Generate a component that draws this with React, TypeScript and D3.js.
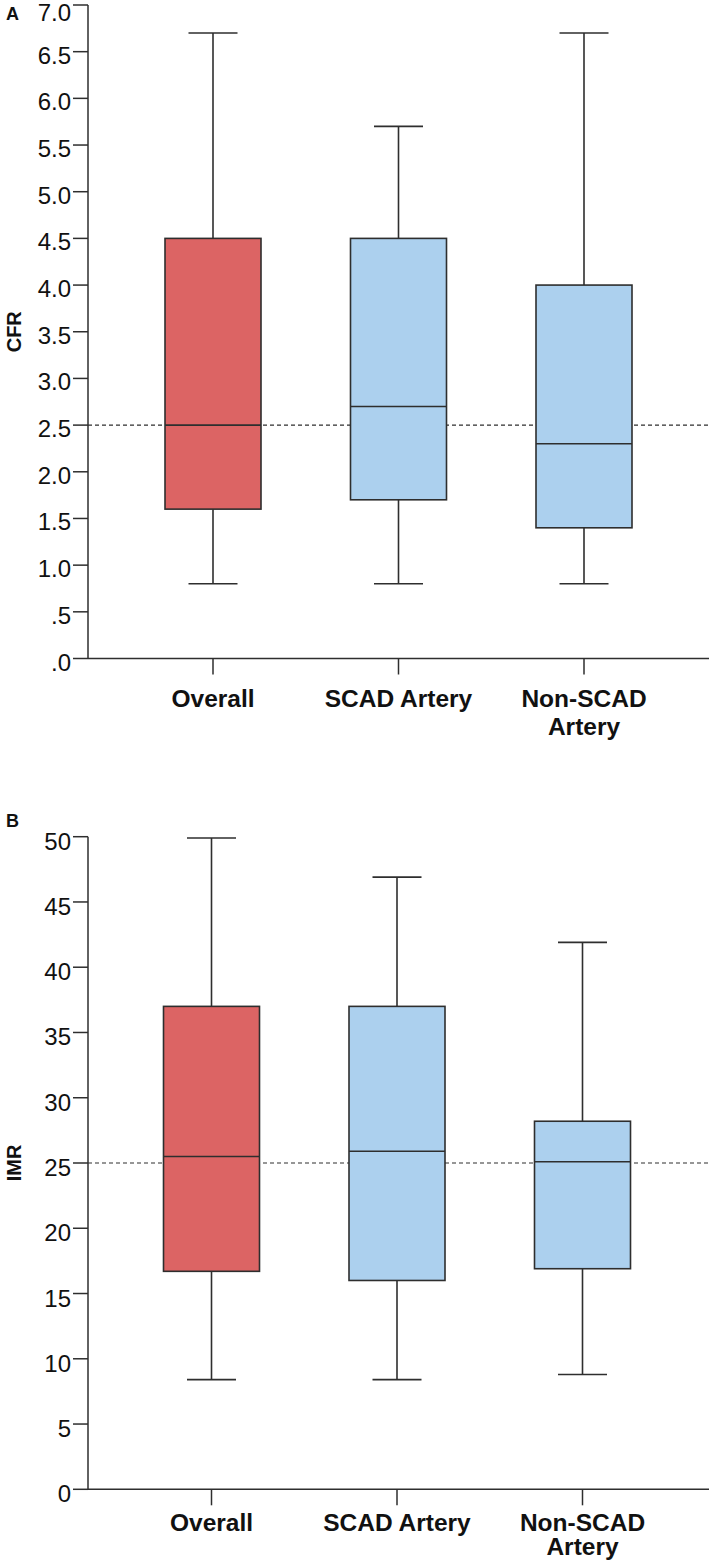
import React from "react";
import * as d3 from "d3";

const categories = ["Overall", "SCAD Artery", "Non-SCAD Artery"];
const fills = ["#dc6464", "#acd0ee", "#acd0ee"];

// CFR (panel A): whisker low, Q1, median, Q3, whisker high
const cfrLow = [0.8, 0.8, 0.8];
const cfrQ1 = [1.6, 1.7, 1.4];
const cfrMedian = [2.5, 2.7, 2.3];
const cfrQ3 = [4.5, 4.5, 4.0];
const cfrHigh = [6.7, 5.7, 6.7];
const cfrTicks = [0, 0.5, 1, 1.5, 2, 2.5, 3, 3.5, 4, 4.5, 5, 5.5, 6, 6.5, 7];
const cfrRef = 2.5;

// IMR (panel B)
const imrLow = [8.4, 8.4, 8.8];
const imrQ1 = [16.7, 16.0, 16.9];
const imrMedian = [25.5, 25.9, 25.1];
const imrQ3 = [37.0, 37.0, 28.2];
const imrHigh = [49.9, 46.9, 41.9];
const imrTicks = [0, 5, 10, 15, 20, 25, 30, 35, 40, 45, 50];
const imrRef = 25;

const FONT = "Arial, 'Liberation Sans', Helvetica, sans-serif";
const STROKE = "#2e2e2e";

type PanelProps = {
  letter: string;
  title: string;
  top: number;
  bottom: number;
  letterY: number;
  domain: [number, number];
  ticks: number[];
  fmt: (v: number) => string;
  low: number[];
  q1: number[];
  med: number[];
  q3: number[];
  high: number[];
  refVal: number;
  xShift: number;
  labelY: number;
  lineGap: number;
  tickDy: number;
};

function Panel(p: PanelProps) {
  const axisX = 88;
  const y = d3.scaleLinear().domain(p.domain).range([p.bottom, p.top]);
  const x = d3
    .scalePoint<string>()
    .domain(categories)
    .range([213 + p.xShift, 584 + p.xShift]);
  const boxHalf = 48;
  const capHalf = 24.5;
  return (
    <g>
      <text x={6} y={p.letterY} fontFamily={FONT} fontWeight="bold" fontSize={18} fill="#111">
        {p.letter}
      </text>
      <text
        transform={`translate(21,${(p.top + p.bottom) / 2}) rotate(-90)`}
        textAnchor="middle"
        fontFamily={FONT}
        fontWeight="bold"
        fontSize={20}
        fill="#111"
      >
        {p.title}
      </text>
      <line
        x1={axisX}
        x2={709}
        y1={y(p.refVal)}
        y2={y(p.refVal)}
        stroke={STROKE}
        strokeWidth={1.2}
        strokeDasharray="4,3"
      />
      {categories.map((c, i) => {
        const cx = x(c)!;
        return (
          <g key={c}>
            <line x1={cx} x2={cx} y1={y(p.high[i])} y2={y(p.q3[i])} stroke={STROKE} strokeWidth={1.6} />
            <line x1={cx} x2={cx} y1={y(p.q1[i])} y2={y(p.low[i])} stroke={STROKE} strokeWidth={1.6} />
            <line x1={cx - capHalf} x2={cx + capHalf} y1={y(p.high[i])} y2={y(p.high[i])} stroke={STROKE} strokeWidth={1.6} />
            <line x1={cx - capHalf} x2={cx + capHalf} y1={y(p.low[i])} y2={y(p.low[i])} stroke={STROKE} strokeWidth={1.6} />
            <rect
              x={cx - boxHalf}
              y={y(p.q3[i])}
              width={boxHalf * 2}
              height={y(p.q1[i]) - y(p.q3[i])}
              fill={fills[i]}
              stroke={STROKE}
              strokeWidth={1.6}
            />
            <line x1={cx - boxHalf} x2={cx + boxHalf} y1={y(p.med[i])} y2={y(p.med[i])} stroke={STROKE} strokeWidth={1.6} />
          </g>
        );
      })}
      <line x1={axisX} x2={axisX} y1={p.top} y2={p.bottom} stroke={STROKE} strokeWidth={1.5} />
      {p.ticks.map((t) => (
        <g key={t}>
          <line x1={axisX - 15} x2={axisX} y1={y(t)} y2={y(t)} stroke={STROKE} strokeWidth={1.5} />
          <text
            x={71}
            y={Math.max(y(t) + p.tickDy, 21)}
            textAnchor="end"
            fontFamily={FONT}
            fontSize={24}
            fill="#111"
          >
            {p.fmt(t)}
          </text>
        </g>
      ))}
      <line x1={axisX} x2={709} y1={p.bottom} y2={p.bottom} stroke={STROKE} strokeWidth={1.5} />
      {categories.map((c) => {
        const cx = x(c)!;
        const words = c === "Non-SCAD Artery" ? ["Non-SCAD", "Artery"] : [c];
        return (
          <g key={c}>
            <line x1={cx} x2={cx} y1={p.bottom} y2={p.bottom + 16} stroke={STROKE} strokeWidth={1.5} />
            {words.map((w, k) => (
              <text
                key={w}
                x={cx}
                y={p.labelY + k * p.lineGap}
                textAnchor="middle"
                fontFamily={FONT}
                fontWeight="bold"
                fontSize={24.5}
                fill="#111"
              >
                {w}
              </text>
            ))}
          </g>
        );
      })}
    </g>
  );
}

const fmtA = (v: number) => {
  const s = v.toFixed(1);
  return s.startsWith("0") ? s.slice(1) : s;
};
const fmtB = (v: number) => String(v);

export default function App() {
  return (
    <svg
      width={709}
      height={1562}
      style={{ position: "absolute", left: 0, top: 0, background: "#fff" }}
    >
      <rect width={709} height={1562} fill="#fff" />
      <Panel
        letter="A"
        title="CFR"
        top={5}
        bottom={658.5}
        letterY={20}
        domain={[0, 7]}
        ticks={cfrTicks}
        fmt={fmtA}
        low={cfrLow}
        q1={cfrQ1}
        med={cfrMedian}
        q3={cfrQ3}
        high={cfrHigh}
        refVal={cfrRef}
        xShift={0}
        labelY={707}
        lineGap={28}
        tickDy={12}
      />
      <Panel
        letter="B"
        title="IMR"
        top={836.7}
        bottom={1489.3}
        letterY={827}
        domain={[0, 50]}
        ticks={imrTicks}
        fmt={fmtB}
        low={imrLow}
        q1={imrQ1}
        med={imrMedian}
        q3={imrQ3}
        high={imrHigh}
        refVal={imrRef}
        xShift={-1.5}
        labelY={1531}
        lineGap={24}
        tickDy={13}
      />
    </svg>
  );
}
